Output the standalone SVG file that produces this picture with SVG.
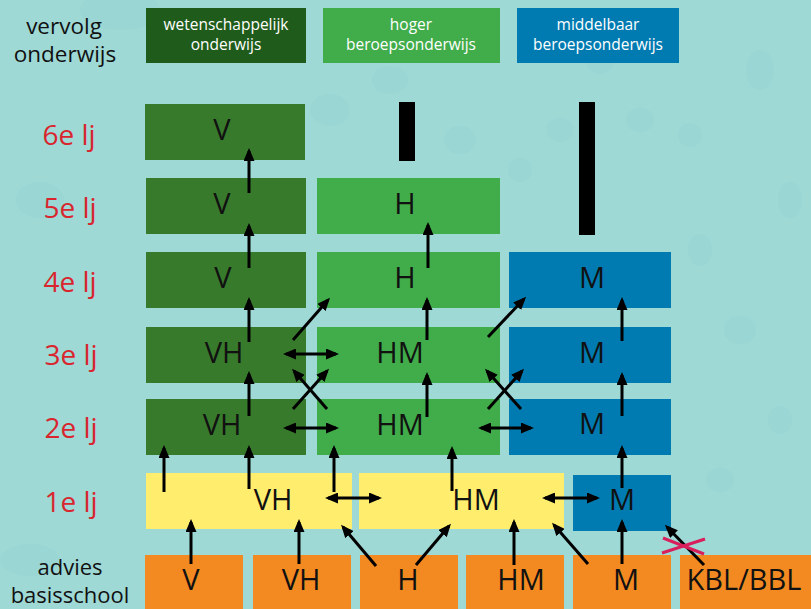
<svg xmlns="http://www.w3.org/2000/svg" width="811" height="609" viewBox="0 0 811 609">
<style>
.lbl{font-family:"Open Sans","Noto Sans","DejaVu Sans",sans-serif;font-size:28px;fill:#D9262E;text-anchor:middle}
.side{font-family:"Open Sans","Noto Sans","DejaVu Sans",sans-serif;fill:#111;text-anchor:middle}
.hd{font-family:"Open Sans","Noto Sans","DejaVu Sans",sans-serif;font-size:15.5px;fill:#fff;text-anchor:middle}
.t{font-family:"Open Sans","Noto Sans","DejaVu Sans",sans-serif;font-size:29px;fill:#111;text-anchor:middle}
.vwo{fill:#387A2C}
.havo{fill:#41AC4A}
.mbo{fill:#007BB1}
.yel{fill:#FFEE6E}
.or{fill:#F38A21}
.bar{fill:#000}
.a{stroke:#000;stroke-width:3;fill:none;marker-end:url(#ah)}
.d{stroke:#000;stroke-width:3;fill:none;marker-end:url(#ah);marker-start:url(#ah)}
.x{stroke:#D81E5B;stroke-width:3;fill:none}
.spot{fill:#8ECFCC;opacity:0.2}
</style>
<defs>
<marker id="ah" viewBox="0 0 13 11" refX="10" refY="5.5" markerWidth="13" markerHeight="11" markerUnits="userSpaceOnUse" orient="auto-start-reverse">
<path d="M0,0 L13,5.5 L0,11 Z" fill="#000"/>
</marker>
</defs>
<rect width="811" height="609" fill="#9ED9D6"/>
<g id="background">
<ellipse class="spot" cx="120" cy="10" rx="40" ry="20"/>
<ellipse class="spot" cx="330" cy="110" rx="20" ry="16"/>
<ellipse class="spot" cx="460" cy="140" rx="16" ry="14"/>
<ellipse class="spot" cx="520" cy="170" rx="12" ry="12"/>
<ellipse class="spot" cx="640" cy="120" rx="14" ry="12"/>
<ellipse class="spot" cx="690" cy="135" rx="12" ry="12"/>
<ellipse class="spot" cx="560" cy="130" rx="14" ry="12"/>
<ellipse class="spot" cx="700" cy="250" rx="12" ry="16"/>
<ellipse class="spot" cx="760" cy="70" rx="14" ry="20"/>
<ellipse class="spot" cx="790" cy="200" rx="12" ry="18"/>
<ellipse class="spot" cx="740" cy="330" rx="16" ry="14"/>
<ellipse class="spot" cx="780" cy="420" rx="12" ry="14"/>
<ellipse class="spot" cx="720" cy="480" rx="14" ry="12"/>
<ellipse class="spot" cx="40" cy="200" rx="24" ry="18"/>
<ellipse class="spot" cx="30" cy="560" rx="30" ry="16"/>
<ellipse class="spot" cx="390" cy="80" rx="18" ry="14"/>
<ellipse class="spot" cx="600" cy="60" rx="14" ry="14"/>
</g>
<g id="labels">
<text class="side" font-size="22.5"><tspan x="64" y="33.5">vervolg</tspan><tspan x="65" y="61.5">onderwijs</tspan></text>
<text class="lbl" x="69" y="145">6e lj</text>
<text class="lbl" x="70" y="218">5e lj</text>
<text class="lbl" x="70" y="292">4e lj</text>
<text class="lbl" x="71" y="365">3e lj</text>
<text class="lbl" x="71" y="438">2e lj</text>
<text class="lbl" x="71" y="512">1e lj</text>
<text class="side" font-size="22"><tspan x="70" y="575">advies</tspan><tspan x="70" y="603">basisschool</tspan></text>
</g>
<g id="header-wo"><rect x="146" y="8" width="160" height="55" fill="#1F5C1B"/><text class="hd"><tspan x="226" y="30">wetenschappelijk</tspan><tspan x="226" y="50">onderwijs</tspan></text></g>
<g id="header-hbo"><rect x="323" y="8" width="177" height="55" fill="#41AC4A"/><text class="hd"><tspan x="411" y="30">hoger</tspan><tspan x="411" y="50">beroepsonderwijs</tspan></text></g>
<g id="header-mbo"><rect x="517" y="8" width="162" height="55" fill="#007BB1"/><text class="hd"><tspan x="598" y="30">middelbaar</tspan><tspan x="598" y="50">beroepsonderwijs</tspan></text></g>

<g id="v6"><rect class="vwo" x="145" y="104" width="160" height="56"/><text class="t" x="222" y="140">V</text></g>
<g id="bar-h6"><rect class="bar" x="399" y="102" width="16" height="59"/></g>
<g id="bar-m56"><rect class="bar" x="579" y="102" width="16" height="133"/></g>

<g id="v5"><rect class="vwo" x="146" y="178" width="160" height="56"/><text class="t" x="222" y="214">V</text></g>
<g id="h5"><rect class="havo" x="317" y="178" width="183" height="56"/><text class="t" x="405" y="214">H</text></g>

<g id="v4"><rect class="vwo" x="146" y="252" width="160" height="56"/><text class="t" x="223" y="288">V</text></g>
<g id="h4"><rect class="havo" x="317" y="252" width="183" height="56"/><text class="t" x="405" y="288">H</text></g>
<g id="m4"><rect class="mbo" x="509" y="252" width="162" height="56"/><text class="t" x="592" y="288">M</text></g>

<g id="vh3"><rect class="vwo" x="146" y="327" width="160" height="56"/><text class="t" x="224" y="363">VH</text></g>
<g id="hm3"><rect class="havo" x="317" y="327" width="183" height="56"/><text class="t" x="400" y="363">HM</text></g>
<g id="m3"><rect class="mbo" x="509" y="327" width="162" height="56"/><text class="t" x="592" y="363">M</text></g>

<g id="vh2"><rect class="vwo" x="146" y="399" width="160" height="56"/><text class="t" x="222" y="435">VH</text></g>
<g id="hm2"><rect class="havo" x="317" y="399" width="183" height="56"/><text class="t" x="400" y="435">HM</text></g>
<g id="m2"><rect class="mbo" x="509" y="399" width="162" height="56"/><text class="t" x="592" y="434">M</text></g>

<g id="vh1"><rect class="yel" x="146" y="473" width="206" height="56"/><text class="t" x="273" y="510">VH</text></g>
<g id="hm1"><rect class="yel" x="359" y="473" width="205" height="56"/><text class="t" x="476" y="510">HM</text></g>
<g id="m1"><rect class="mbo" x="573" y="475" width="98" height="56"/><text class="t" x="622" y="510">M</text></g>

<g id="adv-v"><rect class="or" x="145" y="555" width="98" height="54"/><text class="t" x="191" y="590">V</text></g>
<g id="adv-vh"><rect class="or" x="253" y="555" width="98" height="54"/><text class="t" x="301" y="590">VH</text></g>
<g id="adv-h"><rect class="or" x="360" y="555" width="98" height="54"/><text class="t" x="408" y="590">H</text></g>
<g id="adv-hm"><rect class="or" x="466" y="555" width="98" height="54"/><text class="t" x="521" y="590">HM</text></g>
<g id="adv-m"><rect class="or" x="573" y="555" width="98" height="54"/><text class="t" x="626" y="590">M</text></g>
<g id="adv-kbl"><rect class="or" x="680" y="555" width="131" height="54"/><text class="t" x="744" y="590">KBL/BBL</text></g>

<g id="connectors">
<line class="a" x1="249" y1="193" x2="249" y2="151"/>
<line class="a" x1="249" y1="268" x2="249" y2="226"/>
<line class="a" x1="428" y1="268" x2="428" y2="225"/>
<line class="a" x1="249" y1="342" x2="249" y2="300"/>
<line class="a" x1="427" y1="340" x2="427" y2="300"/>
<line class="a" x1="622" y1="341" x2="622" y2="300"/>
<line class="a" x1="249" y1="416" x2="249" y2="374"/>
<line class="a" x1="427" y1="417" x2="427" y2="375"/>
<line class="a" x1="622" y1="416" x2="622" y2="375"/>
<line class="a" x1="164" y1="492" x2="164" y2="448"/>
<line class="a" x1="249" y1="489" x2="249" y2="448"/>
<line class="a" x1="334" y1="492" x2="334" y2="448"/>
<line class="a" x1="452" y1="491" x2="452" y2="449"/>
<line class="a" x1="622" y1="488" x2="622" y2="448"/>
<line class="a" x1="191" y1="564" x2="191" y2="522"/>
<line class="a" x1="299" y1="564" x2="299" y2="522"/>
<line class="a" x1="514" y1="565" x2="514" y2="522"/>
<line class="a" x1="622" y1="564" x2="622" y2="522"/>
<line class="a" x1="293" y1="340" x2="328" y2="300"/>
<line class="a" x1="488" y1="337" x2="524" y2="299"/>
<line class="a" x1="293" y1="409" x2="327" y2="371"/>
<line class="a" x1="327" y1="409" x2="294" y2="371"/>
<line class="a" x1="521" y1="409" x2="487" y2="371"/>
<line class="a" x1="488" y1="409" x2="522" y2="371"/>
<line class="a" x1="376" y1="566" x2="343" y2="527"/>
<line class="a" x1="416" y1="565" x2="449" y2="526"/>
<line class="a" x1="588" y1="564" x2="554" y2="525"/>
<line class="a" x1="704" y1="565" x2="667" y2="527"/>
<line class="d" x1="286" y1="354" x2="336" y2="354"/>
<line class="d" x1="286" y1="428" x2="336" y2="428"/>
<line class="d" x1="481" y1="428" x2="531" y2="428"/>
<line class="d" x1="328" y1="498" x2="379" y2="498"/>
<line class="d" x1="545" y1="498" x2="597" y2="498"/>
<line class="x" x1="662" y1="553" x2="705" y2="539"/>
<line class="x" x1="663" y1="538" x2="704" y2="554"/>
</g>
</svg>
